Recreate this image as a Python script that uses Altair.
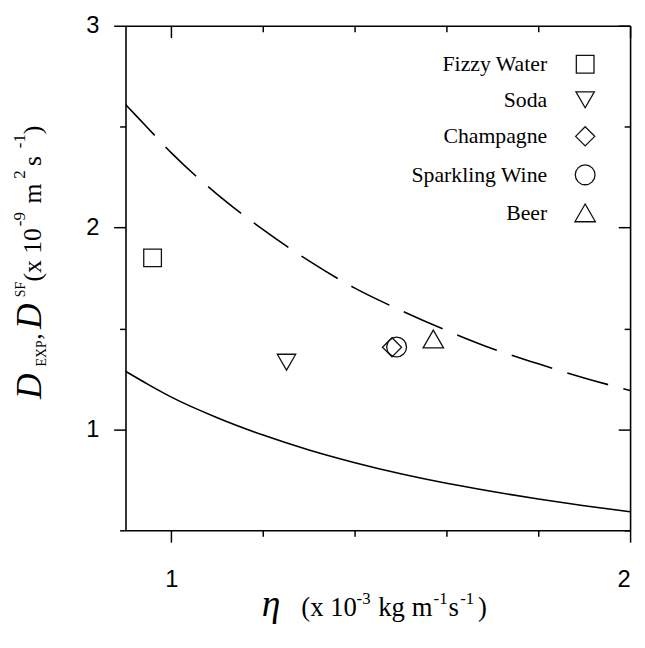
import altair as alt
import pandas as pd

# ---- data ----
eta_curve = [0.9, 0.95, 1.0, 1.1, 1.2, 1.3, 1.4, 1.5, 1.6, 1.7, 1.8, 1.9, 2.0]
d_slip = [2.61, 2.49, 2.37, 2.165, 1.99, 1.835, 1.70, 1.59, 1.49, 1.40, 1.325, 1.255, 1.193]
d_stick = [1.288, 1.222, 1.16, 1.058, 0.972, 0.898, 0.835, 0.78, 0.733, 0.692, 0.655, 0.622, 0.592]

beverages = ["Fizzy Water", "Soda", "Champagne", "Sparkling Wine", "Beer"]
eta_exp = [0.959, 1.251, 1.481, 1.491, 1.571]
d_exp = [1.85, 1.333, 1.407, 1.408, 1.448]
shapes = ["square", "triangle-down", "diamond", "circle", "triangle-up"]
sizes = [320, 430, 520, 420, 400]

x_major = [1.0, 2.0]
x_minor = [1.2, 1.4, 1.6, 1.8]
y_major = [1.0, 2.0, 3.0]
y_minor = [0.5, 1.5, 2.5]

W = 511
H = 511

curve_df = pd.DataFrame({"eta": eta_curve, "slip": d_slip, "stick": d_stick})
pts_df = pd.DataFrame({"eta": eta_exp, "D": d_exp, "bev": beverages})
one = pd.DataFrame({"k": [0]})

xs = alt.Scale(domain=[0.9, 2.0], nice=False, zero=False)
ys = alt.Scale(domain=[0.5, 3.0], nice=False, zero=False)

base = dict(grid=False, domainColor="black", tickColor="black", domainWidth=1.6,
            tickWidth=1.5, title=None)
lab = dict(labelFont="Liberation Sans", labelFontSize=24, labelColor="black", format="d")

# bottom / left: outward ticks
x_bot_major = alt.Axis(orient="bottom", values=x_major, tickSize=12, labelPadding=26, **lab, **base)
x_bot_minor = alt.Axis(orient="bottom", values=x_minor, tickSize=6, labels=False, domain=False, **base)
y_left_major = alt.Axis(orient="left", values=y_major, tickSize=12, labelPadding=15, **lab, **base)
y_left_minor = alt.Axis(orient="left", values=y_minor, tickSize=6, labels=False, domain=False, **base)
# top / right: inward ticks (axes moved across the plot)
x_top_major = alt.Axis(orient="bottom", offset=-H, values=x_major, tickSize=12, labels=False, **base)
x_top_minor = alt.Axis(orient="bottom", offset=-H, values=x_minor, tickSize=6, labels=False,
                       domain=False, **base)
y_right_major = alt.Axis(orient="left", offset=-W, values=y_major, tickSize=12, labels=False, **base)
y_right_minor = alt.Axis(orient="left", offset=-W, values=y_minor, tickSize=6, labels=False,
                         domain=False, **base)

dashed = alt.Chart(curve_df).mark_line(color="black", strokeWidth=1.6, strokeDash=[43, 16],
                                       interpolate="monotone", clip=True).encode(
    x=alt.X("eta:Q", scale=xs, axis=x_bot_major),
    y=alt.Y("slip:Q", scale=ys, axis=y_left_major),
)
solid = alt.Chart(curve_df).mark_line(color="black", strokeWidth=1.6, interpolate="monotone",
                                      clip=True).encode(
    x=alt.X("eta:Q", scale=xs, axis=x_bot_minor),
    y=alt.Y("stick:Q", scale=ys, axis=y_left_minor),
)
ghost1 = alt.Chart(curve_df).mark_line(strokeOpacity=0, clip=True).encode(
    x=alt.X("eta:Q", scale=xs, axis=x_top_major),
    y=alt.Y("stick:Q", scale=ys, axis=y_right_major),
)
ghost2 = alt.Chart(curve_df).mark_line(strokeOpacity=0, clip=True).encode(
    x=alt.X("eta:Q", scale=xs, axis=x_top_minor),
    y=alt.Y("stick:Q", scale=ys, axis=y_right_minor),
)

leg = alt.Legend(orient="none", legendX=454, legendY=28, title=None,
                 labelFont="Liberation Serif", labelFontSize=22, labelColor="black",
                 labelAlign="right", labelOffset={"expr": "-50"}, rowPadding=13, padding=0,
                 symbolStrokeColor="#111", symbolStrokeWidth=1.3,
                 symbolFillColor="transparent")

points = alt.Chart(pts_df).mark_point(filled=False, color="#111", strokeWidth=1.3,
                                      opacity=1).encode(
    x=alt.X("eta:Q", scale=xs, axis=None),
    y=alt.Y("D:Q", scale=ys, axis=None),
    shape=alt.Shape("bev:N", scale=alt.Scale(domain=beverages, range=shapes), legend=leg),
    size=alt.Size("bev:N", scale=alt.Scale(domain=beverages, range=sizes), legend=leg),
)

def txt(s, x, y, size, italic=False, angle=0):
    props = dict(text=s, fontSize=size, font="Liberation Serif", color="black", align="left",
                 baseline="alphabetic", angle=angle)
    if italic:
        props["fontStyle"] = "italic"
    return alt.Chart(one).mark_text(**props).encode(x=alt.value(x), y=alt.value(y))

XB = 598      # x-title baseline (plot coords)
XS = XB - 12  # superscript baseline
YB = -86      # y-title baseline (rotated, plot coords)
YS = YB - 16  # superscript baseline for rotated text (raised = further left)

titles = [
    # x axis title
    txt("η", 138, XB, 38, italic=True),
    txt("(x 10", 178, XB, 27),
    txt("-3", 234, XS, 17),
    txt("kg", 256, XB, 27),
    txt("m", 290, XB, 27),
    txt("-1", 312, XS, 17),
    txt("s", 327, XB, 27),
    txt("-1", 339, XS, 17),
    txt(")", 357, XB, 27),
    # y axis title (rotated, reads upward)
    txt("D", YB, 378, 36, italic=True, angle=270),
    txt("EXP", YB + 5, 345, 14, angle=270),
    txt(",", YB, 318, 26, angle=270),
    txt("D", YB, 307, 36, italic=True, angle=270),
    txt("SF", YS, 275, 14, angle=270),
    txt("(x 10", YB, 259, 26, angle=270),
    txt("-9", YS, 203, 17, angle=270),
    txt("m", YB, 180, 26, angle=270),
    txt("2", YS, 155, 17, angle=270),
    txt("s", YB, 142, 26, angle=270),
    txt("-1", YS, 124, 17, angle=270),
    txt(")", YB, 110, 26, angle=270),
]

chart = alt.layer(dashed, solid, ghost1, ghost2, points, *titles).resolve_axis(
    x="independent", y="independent"
).properties(
    width=W, height=H,
    autosize=alt.AutoSizeParams(type="none"),
    padding={"left": 119, "top": 14, "right": 7, "bottom": 100},
).configure_view(stroke=None)

chart.save("out.html", embed_options={"renderer": "svg", "actions": False})
